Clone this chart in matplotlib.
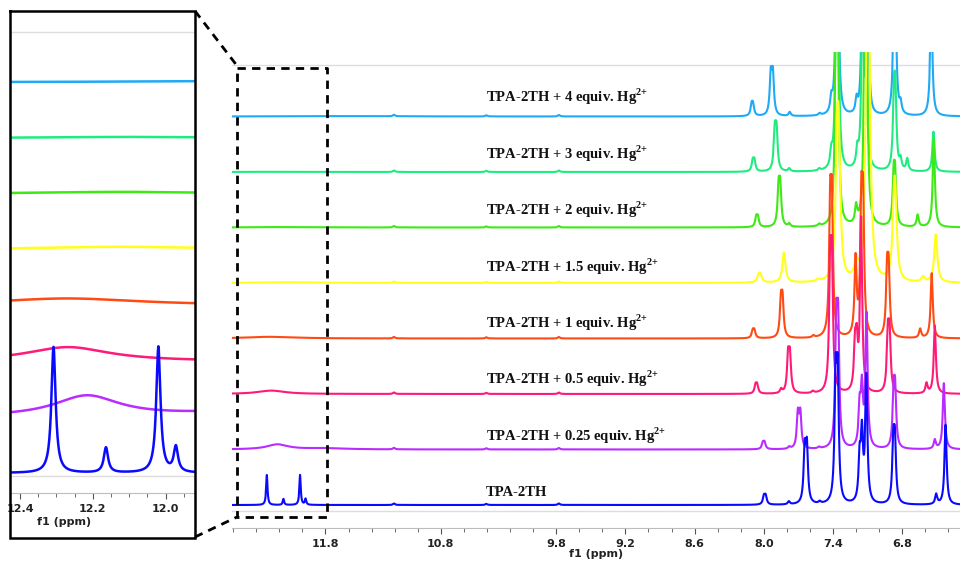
import numpy as np
import matplotlib
matplotlib.use("Agg")
import matplotlib.pyplot as plt
from matplotlib.lines import Line2D
from matplotlib.ticker import FixedLocator, MultipleLocator

plt.rcParams["mathtext.fontset"] = "custom"
plt.rcParams["mathtext.rm"] = "Liberation Serif:bold"
plt.rcParams["mathtext.bf"] = "Liberation Serif:bold"
plt.rcParams["lines.scale_dashes"] = False

# ---- data: peak lists (ppm, height in px of the main panel)
labels = ["TPA-2TH", "TPA-2TH + 0.25 equiv. Hg$^{\\text{2+}}$", "TPA-2TH + 0.5 equiv. Hg$^{\\text{2+}}$",
          "TPA-2TH + 1 equiv. Hg$^{\\text{2+}}$", "TPA-2TH + 1.5 equiv. Hg$^{\\text{2+}}$",
          "TPA-2TH + 2 equiv. Hg$^{\\text{2+}}$", "TPA-2TH + 3 equiv. Hg$^{\\text{2+}}$",
          "TPA-2TH + 4 equiv. Hg$^{\\text{2+}}$"]
colors = ["#0a0aff", "#b92cff", "#ff1a78", "#ff4a14", "#ffff1a", "#3eea14", "#1eec80", "#1eaaf5"]
line_hwhm = [0.011, 0.011, 0.011, 0.011, 0.016, 0.011, 0.011, 0.011]

# NH signals (ppm, height, half-width) - what the inset zooms on
nh_ppm = [[12.308, 12.164, 12.020, 11.972], [12.216, 11.80], [12.268], [12.27],
          [12.12], [12.12], [12.10], [11.60]]
nh_h = [[30, 6, 30, 6], [5.0, 1.2], [3.4], [1.7], [0.7], [0.5], [0.3], [0.4]]
nh_w = [[0.007, 0.007, 0.007, 0.007], [0.11, 0.2], [0.14], [0.25], [0.3], [0.3], [0.3], [0.5]]

# weak signals seen in every trace
weak_ppm = [11.205, 10.405, 9.776]
weak_h = [1.5, 1.2, 1.5]

# aromatic region
tpa_ppm = [7.999, 7.984, 7.783, 7.646, 7.627, 7.516, 7.378, 7.360, 7.170, 7.150, 7.112,
           6.878, 6.864, 6.506, 6.425]
tpa_h = [8, 8, 3, 52, 54, 2, 118, 118, 42, 65, 125, 56, 56, 10, 80]
eq025_ppm = [8.008, 7.994, 7.780, 7.705, 7.684, 7.520, 7.372, 7.356, 7.170, 7.150, 7.110,
             6.875, 6.862, 6.518, 6.440]
eq025_h = [6, 6, 2, 34, 34, 1.5, 112, 112, 38, 56, 132, 50, 50, 9, 66]
eq05_ppm = [8.072, 8.058, 7.850, 7.790, 7.774, 7.575, 7.425, 7.410, 7.210, 7.195, 7.157,
            6.925, 6.910, 6.590, 6.518]
eq05_h = [8, 8, 4, 35, 35, 2, 114, 114, 42, 42, 172, 54, 54, 10, 68]
eq1_ppm = [8.096, 8.082, 7.852, 7.838, 7.570, 7.425, 7.410, 7.205, 7.155, 7.140,
           6.932, 6.918, 6.645, 6.545]
eq1_h = [7, 7, 34, 34, 2, 118, 118, 76, 118, 118, 60, 60, 9, 65]
eq15_ppm = [8.044, 8.030, 7.826, 7.530, 7.365, 7.350, 7.200, 7.105, 7.090,
            6.872, 6.860, 6.620, 6.510]
eq15_h = [6, 6, 30, 2, 110, 110, 16, 200, 200, 60, 60, 5, 48]
eq2_ppm = [8.066, 8.052, 7.872, 7.858, 7.780, 7.520, 7.375, 7.360, 7.200, 7.125, 7.110,
           6.875, 6.862, 6.667, 6.527]
eq2_h = [9, 9, 36, 36, 3, 2, 170, 170, 17, 190, 190, 45, 45, 12, 88]
eq3_ppm = [8.096, 8.082, 7.905, 7.890, 7.780, 7.520, 7.415, 7.372, 7.357, 7.190, 7.145, 7.120,
           6.872, 6.860, 6.815, 6.757, 6.530]
eq3_h = [10, 10, 37, 37, 3, 2, 14, 150, 150, 16, 170, 170, 65, 65, 10, 12, 40]
eq4_ppm = [8.106, 8.094, 7.940, 7.922, 7.776, 7.516, 7.415, 7.372, 7.357, 7.196, 7.148, 7.098,
           6.872, 6.860, 6.815, 6.549]
eq4_h = [10, 10, 39, 39, 4, 2, 14, 120, 120, 14, 120, 120, 90, 90, 10, 120]

arom_ppm = [tpa_ppm, eq025_ppm, eq05_ppm, eq1_ppm, eq15_ppm, eq2_ppm, eq3_ppm, eq4_ppm]
arom_h = [tpa_h, eq025_h, eq05_h, eq1_h, eq15_h, eq2_h, eq3_h, eq4_h]

main_ticks = [11.8, 10.8, 9.8, 9.2, 8.6, 8.0, 7.4, 6.8]
inset_ticks = [12.4, 12.2, 12.0]

W, H = 960, 564
GRID = np.linspace(6.2, 12.7, 13001)


def lorentz(x, x0, h, w):
    return h * w * w / ((x - x0) ** 2 + w * w)


def spectrum(i):
    y = np.zeros_like(GRID)
    for x0, h in zip(arom_ppm[i], arom_h[i]):
        y += lorentz(GRID, x0, h, line_hwhm[i])
    for x0, h in zip(weak_ppm, weak_h):
        y += lorentz(GRID, x0, h, 0.01)
    for x0, h, w in zip(nh_ppm[i], nh_h[i], nh_w[i]):
        y += lorentz(GRID, x0, h, w)
    return y


def fig_axes(fig, x0, y0, x1, y1):
    return fig.add_axes([x0 / W, 1 - y1 / H, (x1 - x0) / W, (y1 - y0) / H])


def fig_line(fig, xs, ys, **kw):
    fig.add_artist(Line2D([x / W for x in xs], [1 - y / H for y in ys],
                          transform=fig.transFigure, **kw))


def style_axis(ax):
    for s in ("top", "left", "right"):
        ax.spines[s].set_visible(False)
    ax.spines["bottom"].set_color("#bdbdbd")
    ax.set_yticks([])
    ax.tick_params(axis="x", which="both", direction="out", colors="#555555",
                   labelcolor="#222222", labelsize=8, pad=4)
    ax.tick_params(axis="x", which="major", length=4)
    ax.tick_params(axis="x", which="minor", length=3)


fig = plt.figure(figsize=(W / 100, H / 100), dpi=100)
spectra = [spectrum(i) for i in range(len(labels))]

# ---- main stacked panel
ax = fig_axes(fig, 232, 52, 960, 528)
ax.set_xlim(12.61, 6.30)
ax.set_ylim(0, 476)
for i in reversed(range(len(labels))):
    ax.plot(GRID, 23 + i * 55.5 + spectra[i], color=colors[i], lw=1.5, zorder=3 + 0.1 * (8 - i))
ax.axhline(17, color="#dddddd", lw=1, zorder=1)
ax.axhline(463, color="#dddddd", lw=1, zorder=1)
for i, lab in enumerate(labels):
    ax.text(10.41, 36 + i * 56.4, lab, ha="left", va="center", fontsize=10.5,
            family="Liberation Serif", fontweight="bold", color="#111111", zorder=6)
ax.xaxis.set_major_locator(FixedLocator(main_ticks))
ax.xaxis.set_minor_locator(MultipleLocator(0.2))
style_axis(ax)
ax.set_xticklabels([f"{t:.1f}" for t in main_ticks], fontweight="bold")
ax.set_xlabel("f1 (ppm)", fontsize=8, fontweight="bold", color="#222222")
ax.xaxis.set_label_coords(0.5, -0.044)

# ---- inset on the NH region
axi = fig_axes(fig, 10, 10.8, 195, 493)
axi.set_xlim(12.4275, 11.9195)
axi.set_ylim(0, 482.2)
for i in reversed(range(len(labels))):
    axi.plot(GRID, 20 + i * 55.8 + 4.2 * spectra[i], color=colors[i], lw=1.8, zorder=3 + 0.1 * (8 - i))
axi.axhline(17, color="#dddddd", lw=1, zorder=1)
axi.axhline(460.6, color="#dddddd", lw=1, zorder=1)
axi.xaxis.set_major_locator(FixedLocator(inset_ticks))
axi.xaxis.set_minor_locator(MultipleLocator(0.05))
style_axis(axi)
axi.set_xticklabels([f"{t:.1f}" for t in inset_ticks], fontweight="bold")
axi.set_xlabel("f1 (ppm)", fontsize=8, fontweight="bold", color="#222222")
axi.xaxis.set_label_coords((64 - 10) / 185, -0.05)

# ---- inset frame, dashed zoom box and connectors
fig_line(fig, [10, 195, 195, 10, 10], [10.8, 10.8, 538, 538, 10.8], color="black", lw=1.8,
         solid_joinstyle="miter")
dash = dict(color="black", lw=2.0, linestyle=(0, (6, 4.5)))
fig_line(fig, [237, 327, 327, 237, 237], [68, 68, 517, 517, 68], **dash)
fig_line(fig, [195, 238], [11, 67], **dash)
fig_line(fig, [195, 237], [537, 517], **dash)

fig.savefig("out.png", dpi=100)
